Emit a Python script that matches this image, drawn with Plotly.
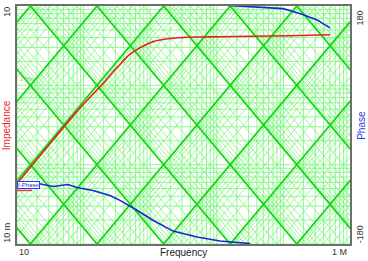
import math
import plotly.graph_objects as go

# ---- data ----
imp_freq = [10.35, 15.7, 31.3, 79.4, 209, 275, 352, 460, 620, 830, 1100, 1480, 1980, 2700, 3570, 5600, 11200, 31500, 126000, 500000]
imp_ohm = [0.060, 0.092, 0.185, 0.47, 1.12, 1.47, 1.83, 2.33, 2.80, 3.20, 3.55, 3.75, 3.90, 3.98, 4.04, 4.07, 4.10, 4.16, 4.22, 4.34]

phase_freq_a = [10.35, 20.7, 34.7, 58.3, 79.4, 138, 249, 352, 632, 1100, 2200, 5040, 11170, 31500]
phase_deg_a = [-90, -88.5, -93, -90, -94.5, -99, -106.5, -114, -129, -144, -160.5, -169.5, -175.5, -179.3]
phase_freq_b = [14800, 33900, 98600, 177000, 320000, 500000]
phase_deg_b = [181, 179.3, 176, 168.5, 159, 147]

# reactance chart grid definitions
multipliers = [1, 2, 3, 4, 5, 6, 7, 8, 9]
ind_decades = list(range(-9, 0))     # henry
cap_decades = list(range(-8, 1))     # farad
freq_decades = list(range(1, 6))
ohm_decades = list(range(-2, 1))

F_MIN, F_MAX = 10, 1e6
Z_MIN, Z_MAX = 0.01, 10

fig = go.Figure()

def add_lines(xs, ys, color, width):
    fig.add_trace(go.Scatter(x=xs, y=ys, mode="lines", hoverinfo="skip",
                             line=dict(color=color, width=width), showlegend=False))

# minor grid: verticals, horizontals, diagonals
gx, gy = [], []
for d in freq_decades:
    for m in multipliers:
        f = m * 10 ** d
        gx += [f, f, None]; gy += [Z_MIN, Z_MAX, None]
for d in ohm_decades:
    for m in multipliers:
        z = m * 10 ** d
        gx += [F_MIN, F_MAX, None]; gy += [z, z, None]
fa, fb = 1.0, 1e7
for d in ind_decades:
    for m in multipliers[1:]:
        L = m * 10 ** d
        gx += [fa, fb, None]; gy += [2 * math.pi * fa * L, 2 * math.pi * fb * L, None]
for d in cap_decades:
    for m in multipliers[1:]:
        C = m * 10 ** d
        gx += [fa, fb, None]; gy += [1 / (2 * math.pi * fa * C), 1 / (2 * math.pi * fb * C), None]
add_lines(gx, gy, "rgba(110,245,110,0.7)", 1)

# major diagonals
mx, my = [], []
for d in ind_decades:
    L = 10 ** d
    mx += [fa, fb, None]; my += [2 * math.pi * fa * L, 2 * math.pi * fb * L, None]
for d in cap_decades:
    C = 10 ** d
    mx += [fa, fb, None]; my += [1 / (2 * math.pi * fa * C), 1 / (2 * math.pi * fb * C), None]
add_lines(mx, my, "rgb(20,215,20)", 1.8)

# curves
fig.add_trace(go.Scatter(x=imp_freq, y=imp_ohm, mode="lines", name="Impedance",
                         line=dict(color="rgb(235,30,30)", width=1.6, shape="spline", smoothing=0.6),
                         showlegend=False))
fig.add_trace(go.Scatter(x=phase_freq_a + [None] + phase_freq_b,
                         y=phase_deg_a + [None] + phase_deg_b, yaxis="y2",
                         mode="lines", name="Phase", connectgaps=False,
                         line=dict(color="rgb(20,40,215)", width=1.6), showlegend=False))

axis_line = dict(showline=True, linecolor="rgb(110,110,110)", linewidth=1.5,
                 showgrid=False, zeroline=False, ticks="", showticklabels=False)

fig.update_layout(
    width=368, height=261,
    margin=dict(l=17, r=18, t=4, b=17),
    paper_bgcolor="white", plot_bgcolor="white",
    font=dict(family="Liberation Sans, Arial, sans-serif", size=9, color="#333"),
    xaxis=dict(type="log", range=[math.log10(F_MIN), math.log10(F_MAX)], mirror=True, **axis_line),
    yaxis=dict(type="log", range=[math.log10(Z_MIN), math.log10(Z_MAX)], mirror=True, **axis_line),
    yaxis2=dict(overlaying="y", side="right", range=[-180, 180], showline=False,
                showgrid=False, zeroline=False, showticklabels=False),
)

ann = [
    dict(text="10", x=0.003, y=-0.008, xanchor="left", yanchor="top"),
    dict(text="1 M", x=0.995, y=-0.008, xanchor="right", yanchor="top"),
    dict(text="Frequency", x=0.5, y=-0.008, xanchor="center", yanchor="top", font=dict(size=10, color="#222")),
    dict(text="10", x=-0.013, y=1.0, xanchor="right", yanchor="top", textangle=-90),
    dict(text="10 m", x=-0.013, y=0.0, xanchor="right", yanchor="bottom", textangle=-90),
    dict(text="Impedance", x=-0.013, y=0.5, xanchor="right", yanchor="middle", textangle=-90,
         font=dict(size=10, color="rgb(235,40,40)")),
    dict(text="180", x=1.013, y=0.985, xanchor="left", yanchor="top", textangle=-90),
    dict(text="-180", x=1.013, y=0.0, xanchor="left", yanchor="bottom", textangle=-90),
    dict(text="Phase", x=1.013, y=0.5, xanchor="left", yanchor="middle", textangle=-90,
         font=dict(size=10, color="rgb(40,60,225)")),
    dict(text="1 Ohm", x=0.005, y=0.675, xanchor="left", yanchor="bottom",
         font=dict(size=5, color="rgba(90,200,90,0.9)")),
]
for a in ann:
    base = dict(xref="paper", yref="paper", showarrow=False, borderpad=0)
    base.update(a)
    fig.add_annotation(**base)

# label tags at the start of the curves
fig.add_shape(type="line", xref="paper", yref="paper", x0=0.0, x1=0.045, y0=0.225, y1=0.225,
              line=dict(color="rgb(235,60,60)", width=1.5))
fig.add_annotation(text="I-Phase", xref="paper", yref="paper", x=0.001, y=0.25,
                   xanchor="left", yanchor="middle", showarrow=False,
                   font=dict(size=6, color="rgb(40,60,225)"), bgcolor="white",
                   bordercolor="rgb(40,60,225)", borderwidth=1, borderpad=0)

fig.write_html("out.html")
